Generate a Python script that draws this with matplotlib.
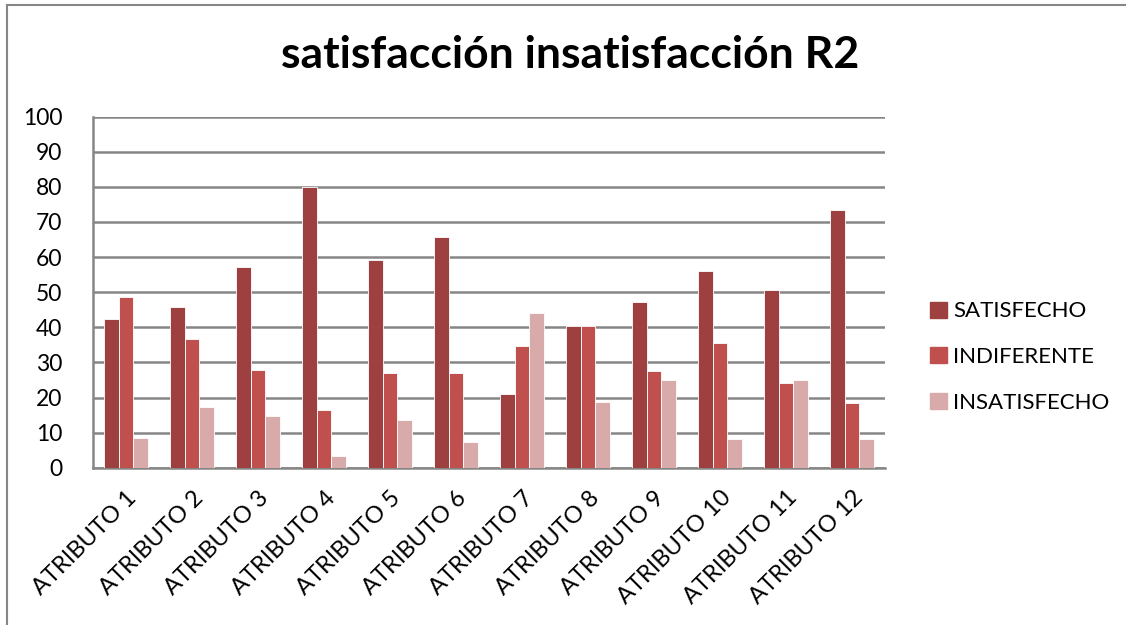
import matplotlib
matplotlib.use("Agg")
import matplotlib.pyplot as plt
import numpy as np
from matplotlib.patches import Rectangle
from matplotlib.lines import Line2D

categories = [f"ATRIBUTO {i}" for i in range(1, 13)]
satisfecho = [42.5, 45.9, 57.3, 80.0, 59.3, 65.6, 20.9, 40.5, 47.2, 56.0, 50.6, 73.4]
indiferente = [48.5, 36.6, 27.8, 16.5, 26.9, 26.9, 34.6, 40.5, 27.5, 35.5, 24.2, 18.3]
insatisfecho = [8.5, 17.3, 14.6, 3.3, 13.5, 7.2, 44.2, 18.7, 24.9, 8.1, 24.9, 8.1]
series_names = ["SATISFECHO", "INDIFERENTE", "INSATISFECHO"]
colors = ["#9E4040", "#C0504D", "#D9AAAA"]
yticks = list(range(0, 101, 10))

plt.rcParams['font.family'] = ['Lato', 'DejaVu Sans']

fig = plt.figure(figsize=(11.26, 6.25), dpi=100)
W, H = 1126, 625
ax = fig.add_axes([93 / W, 1 - 467.7 / H, (885 - 93) / W, (467.7 - 116.7) / H])

x = np.arange(len(categories))
bw = 0.222
for k, (vals, c, name) in enumerate(zip([satisfecho, indiferente, insatisfecho], colors, series_names)):
    ax.bar(x + (k - 1) * bw, vals, width=bw, color=c, edgecolor="white", linewidth=0.6,
           label=name, zorder=3)

ax.set_xlim(-0.5, len(categories) - 0.5)
ax.set_ylim(0, 100)
ax.set_yticks(yticks)
ax.set_yticklabels([str(v) for v in yticks], fontsize=16.5)
ax.yaxis.grid(True, color="#868686", linewidth=1.8, zorder=0)
ax.set_axisbelow(True)
ax.tick_params(axis="y", length=0, pad=22)
ax.tick_params(axis="x", length=0, pad=14)
ax.set_xticks(x)
ax.set_xticklabels(categories, rotation=45, ha="right", rotation_mode="anchor", fontsize=17)
for s in ["top", "right"]:
    ax.spines[s].set_visible(False)
for s in ["left", "bottom"]:
    ax.spines[s].set_color("#868686")
    ax.spines[s].set_linewidth(1.8)

fig.text(570 / W, 1 - 55 / H, "satisfacción insatisfacción R2", ha="center", va="center",
         fontsize=32, fontweight="bold")

handles = [Rectangle((0, 0), 1, 1, color=c) for c in colors]
leg = fig.legend(handles, series_names, loc="center left", bbox_to_anchor=(910 / W, 1 - 357 / H),
                 frameon=False, fontsize=16, handlelength=0.75, handleheight=0.75,
                 handletextpad=0.3, labelspacing=1.15)

# outer chart border (left and top visible)
fig.add_artist(Line2D([7 / W, 7 / W], [0, 1 - 5 / H], transform=fig.transFigure, color="#868686", linewidth=1.5))
fig.add_artist(Line2D([7 / W, 1], [1 - 5 / H, 1 - 5 / H], transform=fig.transFigure, color="#868686", linewidth=1.5))

fig.savefig("out.png", dpi=100)
